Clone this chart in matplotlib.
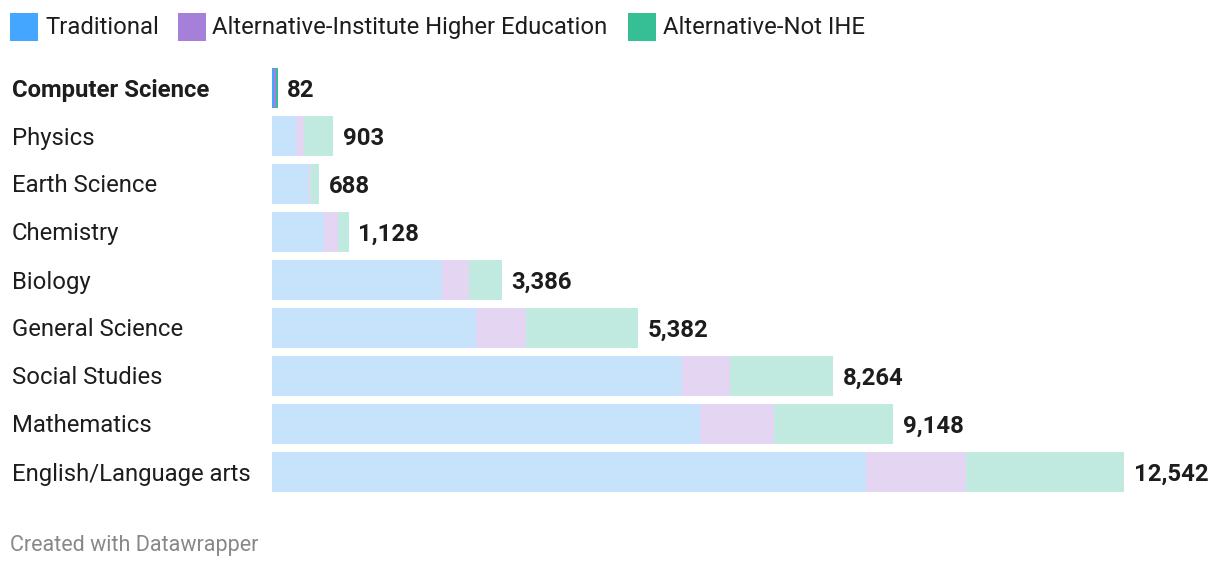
import matplotlib
matplotlib.use("Agg")
import matplotlib.pyplot as plt
from matplotlib.patches import Rectangle

categories = ["Computer Science", "Physics", "Earth Science", "Chemistry", "Biology",
              "General Science", "Social Studies", "Mathematics", "English/Language arts"]
traditional = [30, 350, 535, 766, 2500, 3000, 6035, 6298, 8744]
alt_ihe = [26, 115, 20, 206, 400, 735, 700, 1090, 1472]
alt_not_ihe = [26, 438, 133, 156, 486, 1647, 1529, 1760, 2326]
totals = [82, 903, 688, 1128, 3386, 5382, 8264, 9148, 12542]
series_names = ["Traditional", "Alternative-Institute Higher Education", "Alternative-Not IHE"]
highlight = "Computer Science"

full_colors = ["#45a6ff", "#a67fd9", "#36be94"]
faded_colors = ["#c6e3fb", "#e4d5f2", "#c0eadf"]

plt.rcParams['font.family'] = ['Roboto', 'DejaVu Sans']

W, H = 1220, 570
fig = plt.figure(figsize=(W / 100, H / 100), dpi=100)
fig.patch.set_facecolor("white")

ax_left = 272 / W
ax_right = 1124 / W
ax_top = 1 - 64 / H
ax_bottom = 1 - 496 / H
ax = fig.add_axes([ax_left, ax_bottom, ax_right - ax_left, ax_top - ax_bottom])
ax.set_xlim(0, max(totals))
ax.set_ylim(len(categories) - 0.5, -0.5)
ax.axis("off")

FS = 17.2
bar_h = 40 / 48
for i, cat in enumerate(categories):
    cols = full_colors if cat == highlight else faded_colors
    left = 0
    for vals, c in zip([traditional, alt_ihe, alt_not_ihe], cols):
        ax.barh(i, vals[i], left=left, height=bar_h, color=c, linewidth=0)
        left += vals[i]
    ax.annotate(f"{totals[i]:,}", xy=(totals[i], i), xytext=(7, -1.5),
                textcoords="offset points", va="center", ha="left",
                fontsize=FS, fontweight="bold", color="#1d1d1d")
    fig.text(12 / W, 1 - (90 + 48 * i) / H, cat, ha="left", va="center",
             fontsize=FS, color="#1d1d1d",
             fontweight="bold" if cat == highlight else "normal")

leg_sq_x = [10, 178, 628]
leg_txt_x = [45, 212, 663]
for name, c, sx, tx in zip(series_names, full_colors, leg_sq_x, leg_txt_x):
    fig.patches.append(Rectangle((sx / W, 1 - 41 / H), 28 / W, 28 / H,
                                 transform=fig.transFigure, facecolor=c,
                                 edgecolor="none"))
    fig.text(tx / W, 1 - 27.5 / H, name, ha="left", va="center",
             fontsize=FS, color="#1d1d1d")

fig.text(10 / W, 1 - 546 / H, "Created with Datawrapper", ha="left", va="center",
         fontsize=15.5, color="#888888")

fig.savefig("out.png", dpi=100, facecolor="white")
